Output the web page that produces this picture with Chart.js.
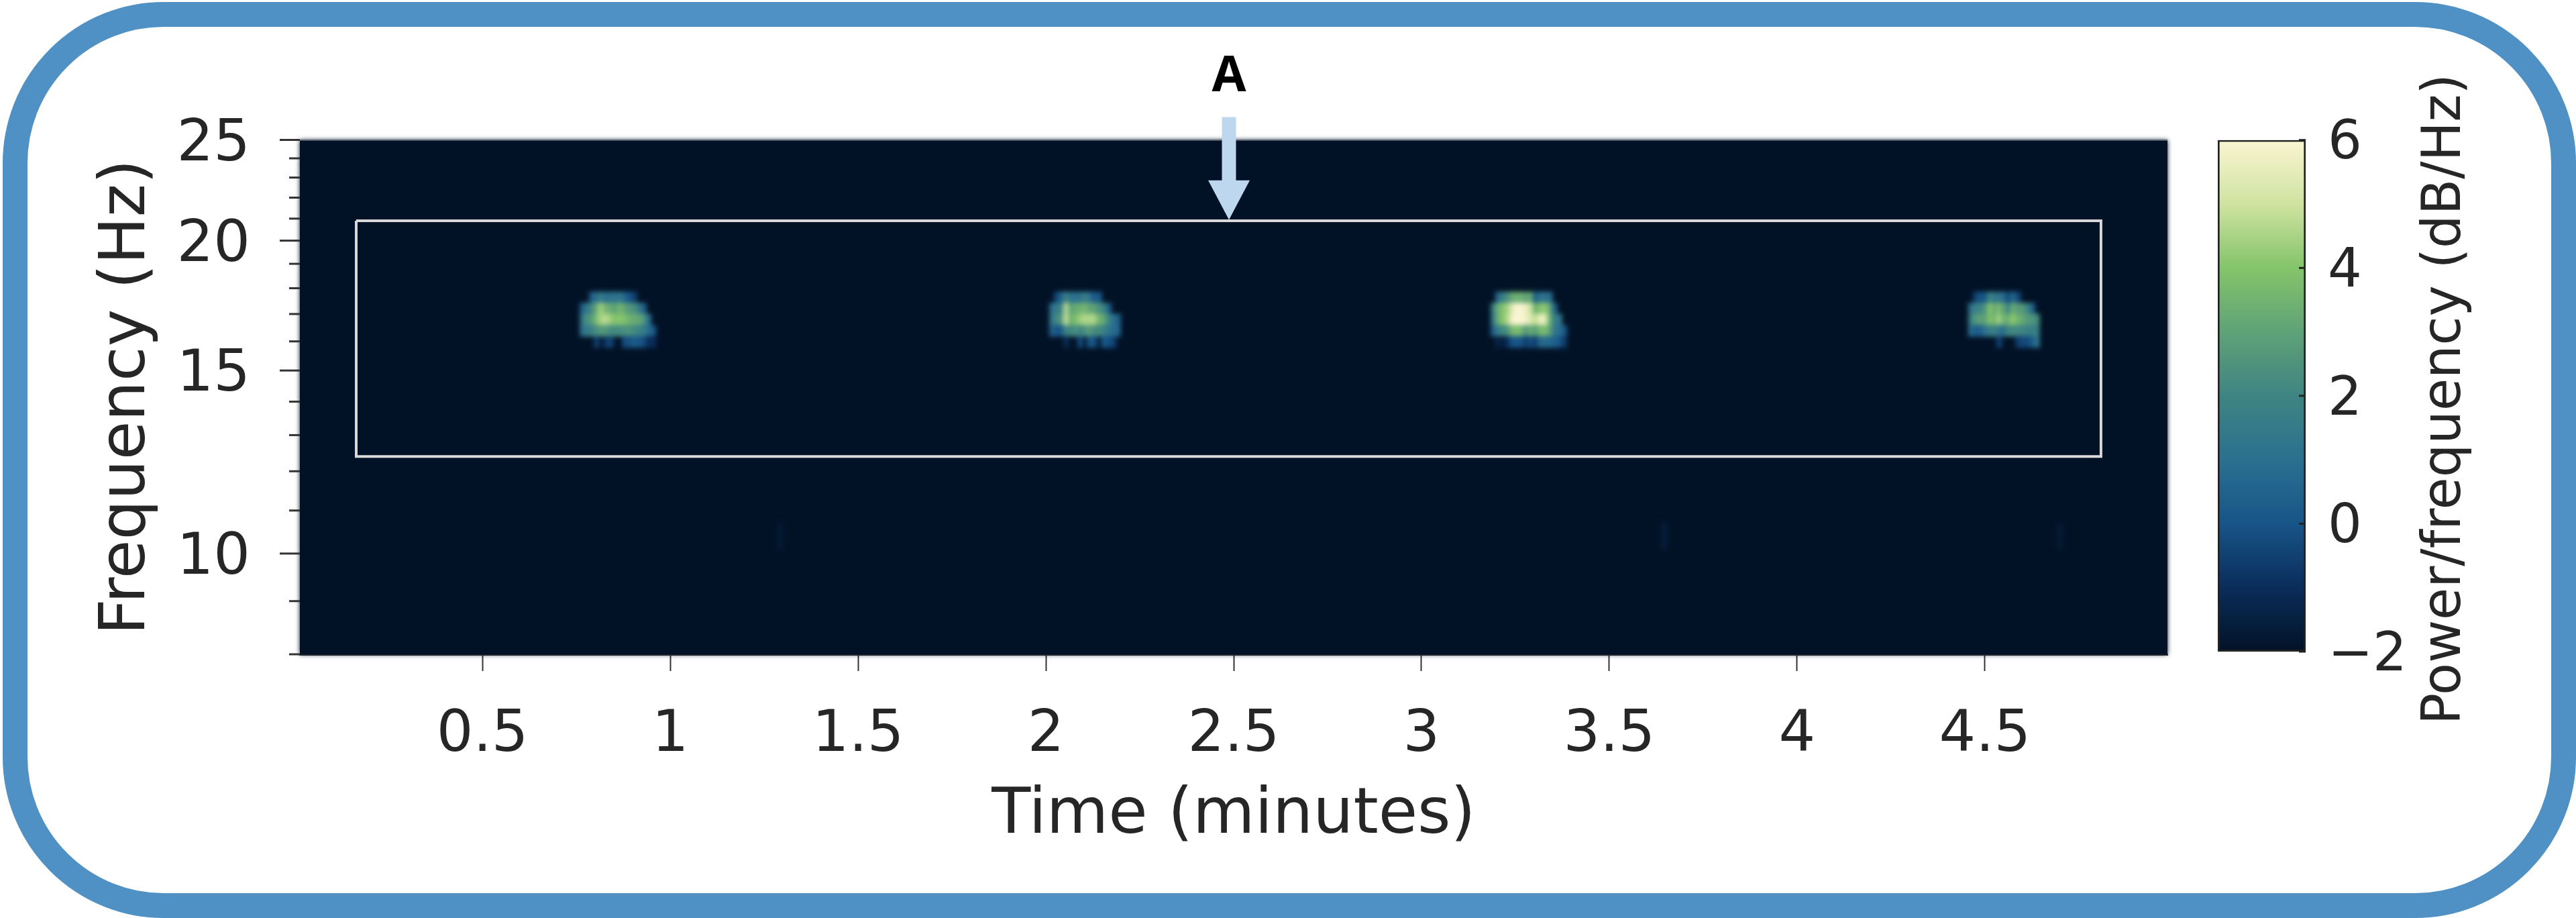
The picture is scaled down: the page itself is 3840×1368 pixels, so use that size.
<!DOCTYPE html>
<html>
<head>
<meta charset="utf-8">
<title>Spectrogram</title>
<script src="https://cdn.jsdelivr.net/npm/chart.js@4/dist/chart.umd.min.js"></script>
<style>
  html, body { margin: 0; padding: 0; background: #fff; width: 3840px; height: 1368px; overflow: hidden; }
  #frame { position: absolute; left: 4px; top: 3px; width: 3762px; height: 1291px; border: 37px solid #4f90c5; border-radius: 240px; }
  #myChart { position: absolute; left: 0; top: 0; }
  #myBar { position: absolute; left: 3240px; top: 0; }
</style>
</head>
<body>
<div id="frame"></div>
<canvas id="myChart" width="3240" height="1368"></canvas>
<canvas id="myBar" width="560" height="1368"></canvas>
<script>
// axis ticks
var xTicks = [0.5, 1, 1.5, 2, 2.5, 3, 3.5, 4, 4.5];
var yTicks = [10, 15, 20, 25];
var yMinorTicks = [8, 9, 11, 12, 13, 14, 16, 17, 18, 19, 21, 22, 23, 24];
var barTicks = [-2, 0, 2, 4, 6];

// colour scale (dB/Hz)
var colorValues = [-2, -1, 0, 1, 2, 3, 4, 5, 6];
var colorStops = ["#021226", "#0a2d5a", "#175488", "#2b7090", "#3e8482", "#5fa277", "#84c46a", "#cfe3a0", "#faf5d2"];

// frequency bin edges (Hz), five rows per burst
var rowEdges = [17.85, 17.42, 17.0, 16.58, 16.18, 15.78];
var colStep = 0.0125;

// start time of each burst (minutes)
var burstStarts = [0.7607, 2.0107, 3.1857, 4.4571];

// power per row, top row first
var burst1 = [
  [-2, -2, 0.5, 0.9, 1.7, 0.9, 1.1, 1.1, 1.3, 0.7, 0, -0.5, -2, -2, -2, -2],
  [0.5, 1.4, 2.1, 3.3, 4.4, 3.5, 3.3, 2.9, 3.6, 3.1, 2.6, 2.4, 1.7, 0.5, -2, -2],
  [1.4, 2.4, 2.7, 3.8, 4.5, 4.7, 4.3, 3.9, 4.1, 3.8, 3.5, 3.2, 3.2, 2.7, 1, -2],
  [1.1, 1.5, 1.8, 2.4, 2.6, 2.6, 2.2, 2.2, 2.2, 2.4, 2.4, 2.2, 1.8, 1.7, 0.9, 0.3],
  [-2, -2, -2, -0.5, -2, -0.7, -0.4, -2, -2, -0.1, -0.1, 0.3, 0.1, -0.1, -1, -1]
];
var burst2 = [
  [-2, -0.3, 0.5, 2, 1.1, 1, 1.1, 1.7, 1.3, 0.2, 0.2, -2, -2, -2, -2, -2],
  [1.1, 1.5, 1.9, 4.8, 3, 3.2, 3.4, 3.6, 3.1, 3, 2.4, 2.1, 0.5, -2, -2, -2],
  [1.4, 2.1, 2.6, 4.9, 3.4, 3.8, 4.3, 4.6, 4.5, 4.6, 3.5, 3.2, 2.1, 1.1, 0.5, -2],
  [0.6, 0, 0.2, 2.1, 1.9, 2.4, 1.9, 2.4, 2.8, 2.2, 2.2, 1.8, 1.3, 0.9, 0.6, -2],
  [-2, -2, -2, -1.1, -2, -2, -0.2, -2, 0.3, -0.1, -2, 0.1, 0, -0.4, -2, -2]
];
var burst3 = [
  [-2, 0.8, 1.7, 2.3, 3.2, 3.4, 3.4, 3, 3.2, 0.2, 1.3, 1.1, 0.9, -2, -2, -2],
  [1.7, 3.3, 4, 4.4, 5.4, 6, 6, 5.6, 5, 3.3, 4, 4.2, 3.3, 0.6, -2, -2],
  [1.4, 3.3, 4, 4.6, 5.8, 6, 6, 5.8, 5.2, 4.8, 5.6, 5.6, 3.6, 1.7, 1.3, -2],
  [0.5, 1.6, 2.1, 2.4, 3.6, 3.8, 3.6, 2.6, 3.3, 2.8, 3.6, 3.8, 3.1, 1.3, 1.1, 0.3],
  [-2, -1.3, -1.6, -1, 0, 0.1, 0, -0.6, -0.1, -0.6, 0.7, 0.8, 0.7, 0.4, 0.2, -0.6]
];
var burst4 = [
  [-2, -0.5, 0, 0, 2, 1.3, 1.3, 0.9, -0.3, 0.8, -0.3, -2, -2, -2, -2, -2],
  [1.1, 1.8, 2, 2.4, 4, 3.2, 3.7, 3, 1.9, 3.3, 2.7, 2.7, 2.1, 0.6, -2, -2],
  [1.7, 2.7, 2.9, 2.9, 3.9, 3.5, 4.4, 3.4, 3.4, 4.1, 3.5, 3.2, 2.7, 2.6, 2.3, -2],
  [0.9, 0.2, 0.4, 1.1, 1.6, 1.8, 1.3, 0.9, 2.1, 2.1, 2.1, 2, 1.8, 1.7, 1.7, -2],
  [-2, -2, -2, -2, -2, -2, -0.5, -2, -2, -2, -0.6, -0.3, -0.3, 0.1, 1.2, -2]
];
var bursts = [burst1, burst2, burst3, burst4];

// very faint streaks near 10 Hz
var streakTimes = [1.293, 3.646, 4.7];
var streakPower = [-1.7, -1.6, -1.7];
var streakBand = [10.1, 10.7];

// white box and arrow, in axis units
var boxTimes = [0.164, 4.809, 4.809, 0.164, 0.164];
var boxFreqs = [20.9, 20.9, 12.4, 12.4, 20.9];
var arrowTime = 2.4875;
var arrowTopFreq = 26.3;
var arrowHeadFreq = 22.86;
var arrowTipFreq = 20.95;

function hexToRgb(h) {
  return [parseInt(h.slice(1, 3), 16), parseInt(h.slice(3, 5), 16), parseInt(h.slice(5, 7), 16)];
}

function colorFor(v) {
  for (var i = 0; i < colorValues.length - 1; i++) {
    if (v <= colorValues[i + 1]) {
      var f = Math.max(0, (v - colorValues[i]) / (colorValues[i + 1] - colorValues[i]));
      var a = hexToRgb(colorStops[i]);
      var b = hexToRgb(colorStops[i + 1]);
      return "rgb(" + a.map(function (c, k) { return Math.round(c + (b[k] - c) * f); }).join(",") + ")";
    }
  }
  return colorStops[colorStops.length - 1];
}

// one floating bar per spectrogram cell
var cells = [];
bursts.forEach(function (burst, b) {
  burst.forEach(function (row, r) {
    row.forEach(function (power, c) {
      if (power > -2) {
        cells.push({ x: burstStarts[b] + (c + 0.5) * colStep, y: [rowEdges[r + 1], rowEdges[r]], power: power });
      }
    });
  });
});
streakTimes.forEach(function (t, i) {
  cells.push({ x: t, y: streakBand, power: streakPower[i] });
});

var box = boxTimes.map(function (t, i) { return { x: t, y: boxFreqs[i] }; });

var axisFont = "'DejaVu Sans'";
var textColor = "#262626";

var spectrogramExtras = {
  id: "spectrogramExtras",
  beforeDatasetsDraw: function (chart) {
    var a = chart.chartArea;
    var ctx = chart.ctx;
    ctx.save();
    ctx.fillStyle = colorStops[0];
    ctx.fillRect(a.left, a.top, a.right - a.left, a.bottom - a.top);
    ctx.restore();
  },
  afterDatasetDraw: function (chart, args) {
    // the spectrogram is interpolated in the original, so soften the cells
    if (args.index !== 0) return;
    var a = chart.chartArea;
    var ctx = chart.ctx;
    ctx.save();
    ctx.filter = "blur(3.5px)";
    ctx.drawImage(chart.canvas, a.left, a.top, a.right - a.left, a.bottom - a.top,
      a.left, a.top, a.right - a.left, a.bottom - a.top);
    ctx.restore();
  },
  afterDraw: function (chart) {
    var ctx = chart.ctx;
    var x = chart.scales.x;
    var y = chart.scales.y;
    var a = chart.chartArea;
    ctx.save();
    // y ticks, the library only has one tick length
    ctx.strokeStyle = "#333333";
    ctx.lineWidth = 3;
    yTicks.concat(yMinorTicks).forEach(function (v) {
      var p = y.getPixelForValue(v);
      var len = yTicks.indexOf(v) >= 0 ? 30 : 16;
      ctx.beginPath();
      ctx.moveTo(a.left - len, p);
      ctx.lineTo(a.left, p);
      ctx.stroke();
    });
    // thin top edge of the axes
    ctx.strokeStyle = "#7a828a";
    ctx.lineWidth = 2;
    ctx.beginPath();
    ctx.moveTo(a.left, a.top);
    ctx.lineTo(a.right, a.top);
    ctx.stroke();
    // arrow
    var ax = x.getPixelForValue(arrowTime);
    var top = y.getPixelForValue(arrowTopFreq);
    var head = y.getPixelForValue(arrowHeadFreq);
    var tip = y.getPixelForValue(arrowTipFreq);
    ctx.fillStyle = "#bdd7ee";
    ctx.beginPath();
    ctx.moveTo(ax - 10.5, top);
    ctx.lineTo(ax + 10.5, top);
    ctx.lineTo(ax + 10.5, head);
    ctx.lineTo(ax + 31, head);
    ctx.lineTo(ax, tip);
    ctx.lineTo(ax - 31, head);
    ctx.lineTo(ax - 10.5, head);
    ctx.closePath();
    ctx.fill();
    ctx.fillStyle = "#000000";
    ctx.font = "bold 74px 'Open Sans'";
    ctx.textAlign = "center";
    ctx.textBaseline = "alphabetic";
    ctx.fillText("A", ax, 136);
    ctx.restore();
  }
};

function chart_data() {
  new Chart("myChart", {
    type: "bar",
    plugins: [spectrogramExtras],
    data: {
      datasets: [
        {
          label: "Power",
          data: cells,
          backgroundColor: function (c) { return c.raw ? colorFor(c.raw.power) : colorStops[0]; },
          barThickness: 8,
          order: 2,
        },
        {
          type: "line",
          label: "Box",
          data: box,
          borderColor: "#d9d9d9",
          borderWidth: 4,
          pointRadius: 0,
          fill: false,
          tension: 0,
          order: 1,
        },
      ],
    },
    options: {
      responsive: false,
      animation: false,
      devicePixelRatio: 1,
      layout: { padding: { top: 208.5, right: 9, left: 0, bottom: 0 } },
      plugins: { legend: { display: false }, tooltip: { enabled: false } },
      scales: {
        x: {
          type: "linear",
          offset: false,
          min: 0.014,
          max: 4.986,
          afterBuildTicks: function (s) { s.ticks = xTicks.map(function (v) { return { value: v }; }); },
          afterFit: function (s) { s.height = 393; },
          grid: { display: true, drawOnChartArea: false, offset: false, tickLength: 25, tickWidth: 2, tickColor: "#333333" },
          border: { display: true, color: "#333333", width: 3 },
          ticks: {
            autoSkip: false,
            maxRotation: 0,
            padding: 45,
            color: textColor,
            font: { family: axisFont, size: 86 },
            callback: function (v) { return String(v); },
          },
          title: {
            display: true,
            text: "Time (minutes)",
            color: textColor,
            font: { family: axisFont, size: 95 },
            padding: { top: 0, bottom: 95 },
          },
        },
        y: {
          type: "logarithmic",
          min: 8,
          max: 25,
          afterBuildTicks: function (s) { s.ticks = yTicks.map(function (v) { return { value: v }; }); },
          afterFit: function (s) { s.width = 447; },
          grid: { display: false, drawTicks: false },
          border: { display: false },
          ticks: {
            autoSkip: false,
            padding: 74,
            labelOffset: 8,
            color: textColor,
            font: { family: axisFont, size: 86 },
            callback: function (v) { return String(v); },
          },
          title: {
            display: true,
            text: "Frequency (Hz)",
            color: textColor,
            font: { family: axisFont, size: 94 },
            padding: { top: 134, bottom: 0 },
          },
        },
      },
    },
  });

  var colorbarExtras = {
    id: "colorbarExtras",
    afterDraw: function (chart) {
      var ctx = chart.ctx;
      var a = chart.chartArea;
      var y = chart.scales.y;
      ctx.save();
      ctx.strokeStyle = "#222222";
      ctx.lineWidth = 3;
      barTicks.forEach(function (v) {
        var p = y.getPixelForValue(v);
        ctx.beginPath();
        ctx.moveTo(a.right - 10, p);
        ctx.lineTo(a.right, p);
        ctx.stroke();
      });
      // reads bottom to top, the library would turn a right-hand title the other way
      ctx.translate(406, 595);
      ctx.rotate(-Math.PI / 2);
      ctx.fillStyle = textColor;
      ctx.font = "80px " + axisFont;
      ctx.textAlign = "center";
      ctx.textBaseline = "middle";
      ctx.fillText("Power/frequency (dB/Hz)", 0, 0, 970);
      ctx.restore();
    }
  };

  new Chart("myBar", {
    type: "bar",
    plugins: [colorbarExtras],
    data: {
      labels: ["Power"],
      datasets: [
        {
          data: [[barTicks[0], barTicks[barTicks.length - 1]]],
          backgroundColor: function (c) {
            var a = c.chart.chartArea;
            if (!a) return colorStops[0];
            var g = c.chart.ctx.createLinearGradient(0, a.bottom, 0, a.top);
            colorStops.forEach(function (col, i) { g.addColorStop(i / (colorStops.length - 1), col); });
            return g;
          },
          borderColor: "#222222",
          borderWidth: 3,
          borderSkipped: false,
          categoryPercentage: 1,
          barPercentage: 1,
        },
      ],
    },
    options: {
      responsive: false,
      animation: false,
      devicePixelRatio: 1,
      layout: { padding: { top: 208.7, bottom: 397, left: 66, right: 0 } },
      plugins: { legend: { display: false }, tooltip: { enabled: false } },
      scales: {
        x: { display: false },
        y: {
          position: "right",
          min: -2,
          max: 6,
          afterBuildTicks: function (s) { s.ticks = barTicks.map(function (v) { return { value: v }; }); },
          afterFit: function (s) { s.width = 363; },
          grid: { display: false, drawTicks: false },
          border: { display: false },
          ticks: {
            padding: 33,
            labelOffset: 7,
            color: textColor,
            font: { family: axisFont, size: 80 },
            callback: function (v) { return String(v).replace("-", "\u2212"); },
          },
        },
      },
    },
  });
}

chart_data();
</script>
</body>
</html>
